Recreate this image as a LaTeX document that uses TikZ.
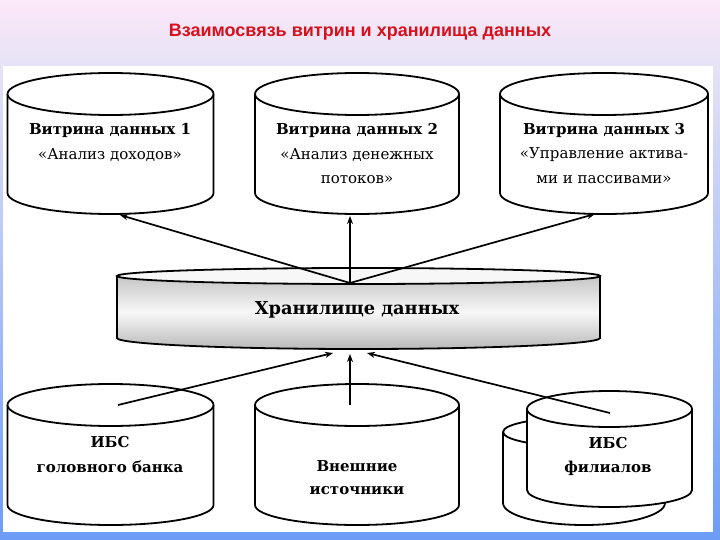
\documentclass[tikz,border=0pt]{standalone}
\usepackage{fontspec}
\setmainfont{DejaVu Serif}
\newfontfamily\titlefont{Liberation Sans}
\usetikzlibrary{arrows.meta}
\definecolor{bgtop}{HTML}{FCE8F8}
\definecolor{bgmid}{HTML}{E6E2F6}
\definecolor{bgbot}{HTML}{6C9CF6}
\definecolor{titlered}{HTML}{D8101C}
\tikzset{
  cylline/.style={draw=black, line width=1.8pt},
  lbl/.style={font=\fontsize{15}{17}\selectfont, inner sep=0pt, anchor=center},
  lblb/.style={lbl, font=\fontsize{15}{17}\selectfont\bfseries},
  conn/.style={line width=1.7pt, -{Stealth[length=8pt,width=6pt]}},
}
\newcommand\dbcyl[6]{%
  \fill[white] (#1-#4,-#2) -- (#1-#4,-#3) arc[start angle=180,end angle=360,x radius=#4pt,y radius=#6pt] -- (#1+#4,-#2) -- cycle;
  \draw[cylline] (#1-#4,-#2) -- (#1-#4,-#3) arc[start angle=180,end angle=360,x radius=#4pt,y radius=#6pt] -- (#1+#4,-#2);
  \draw[cylline, fill=white] (#1,-#2) ellipse[x radius=#4pt, y radius=#5pt];
}
\begin{document}
\begin{tikzpicture}[x=1pt,y=1pt]
\useasboundingbox (0,0) rectangle (720,-540);
% background
\shade[top color=bgtop, bottom color=bgmid] (0,0) rectangle (720,-66);
\shade[top color=bgmid, bottom color=bgbot] (0,-66) rectangle (720,-540);
\fill[white] (3,-66) rectangle (713,-532);
% title
\node[font=\titlefont\fontsize{18}{21}\selectfont\bfseries, text=titlered] (title) at (360,-32) {Взаимосвязь витрин и хранилища данных};

% top cylinders
\dbcyl{110.5}{94}{193}{103}{21}{21}
\dbcyl{357}{94}{193}{102}{21}{21}
\dbcyl{604}{94}{193}{104}{21}{21}
\node[lblb] (v1a) at (110,-130) {Витрина данных 1};
\node[lbl]  (v1b) at (110,-155) {«Анализ доходов»};
\node[lblb] (v2a) at (357,-130) {Витрина данных 2};
\node[lbl]  (v2b) at (357,-155) {«Анализ денежных};
\node[lbl]  (v2c) at (357,-180) {потоков»};
\node[lblb] (v3a) at (604,-130) {Витрина данных 3};
\node[lbl]  (v3b) at (604,-155) {«Управление актива-};
\node[lbl]  (v3c) at (604,-180) {ми и пассивами»};

% warehouse
\shade[top color=gray!45, bottom color=gray!55, middle color=white!94!gray]
  (117,-276) -- (117,-338) arc[start angle=180,end angle=360,x radius=241.5pt,y radius=11pt] -- (600,-276) -- cycle;
\draw[cylline] (117,-276) -- (117,-338) arc[start angle=180,end angle=360,x radius=241.5pt,y radius=11pt] -- (600,-276);
\draw[cylline, fill=gray!6] (358.5,-276) ellipse[x radius=241.5pt, y radius=8pt];
\node[lblb, font=\fontsize{17.8}{20}\selectfont\bfseries] (hd) at (357,-310) {Хранилище данных};

% bottom cylinders
\dbcyl{110.5}{405}{505}{103}{21}{20}
\dbcyl{357}{405}{505}{102}{21}{20}
\dbcyl{584}{432}{503}{81}{15}{22}
\dbcyl{609.5}{409}{490}{82.5}{18}{17}
\node[lblb] (s1a) at (110,-442) {ИБС};
\node[lblb] (s1b) at (110,-467) {головного банка};
\node[lblb] (s2a) at (357,-466) {Внешние};
\node[lblb] (s2b) at (357,-491) {источники};
\node[lblb] (s3a) at (608,-443) {ИБС};
\node[lblb] (s3b) at (608,-468) {филиалов};

% connector points
\coordinate (hubtop) at (350,-283);
\coordinate (m1) at (120,-215);
\coordinate (m2) at (350,-216);
\coordinate (m3) at (595,-214);
\coordinate (src1) at (118,-405);
\coordinate (src2) at (350,-405);
\coordinate (src3) at (610,-413);
\coordinate (in1) at (333,-353);
\coordinate (in2) at (350,-354);
\coordinate (in3) at (367,-353);

\draw[conn] (hubtop) -- (m1);
\draw[conn] (hubtop) -- (m2);
\draw[conn] (hubtop) -- (m3);
\draw[conn] (src1) -- (in1);
\draw[conn] (src2) -- (in2);
\draw[conn] (src3) -- (in3);
\end{tikzpicture}
\end{document}
